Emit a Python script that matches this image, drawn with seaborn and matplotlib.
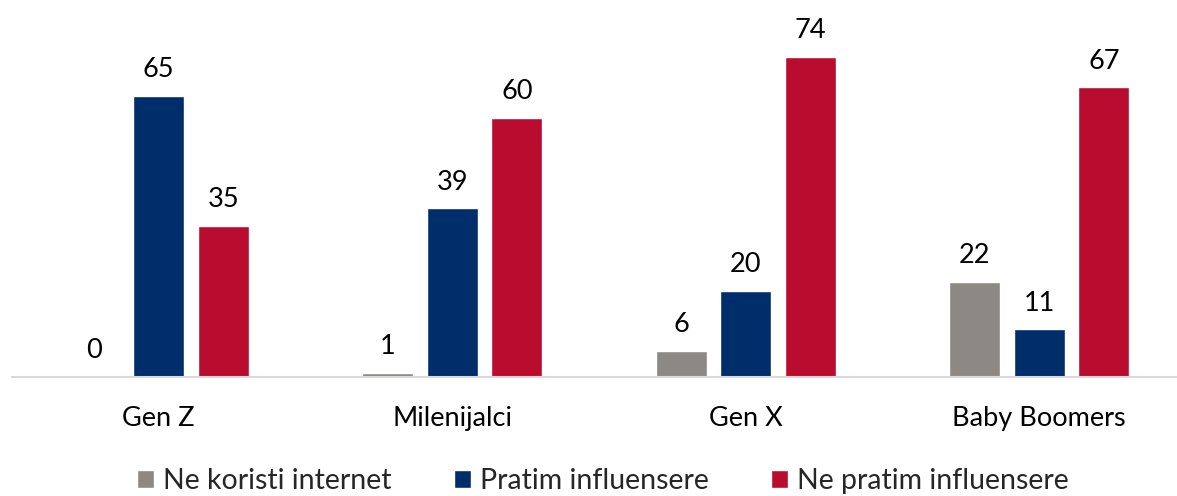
import matplotlib
matplotlib.use("Agg")
import matplotlib.pyplot as plt
import pandas as pd
import seaborn as sns

# data
generations = ["Gen Z", "Milenijalci", "Gen X", "Baby Boomers"]
series = ["Ne koristi internet", "Pratim influensere", "Ne pratim influensere"]
ne_koristi = [0, 1, 6, 22]
pratim = [65, 39, 20, 11]
ne_pratim = [35, 60, 74, 67]
colors = ["#8C8984", "#002E6B", "#BA0C2F"]

rows = []
for name, vals in zip(series, [ne_koristi, pratim, ne_pratim]):
    for gen, v in zip(generations, vals):
        rows.append({"gen": gen, "series": name, "value": v})
df = pd.DataFrame(rows)

sns.set_theme(style="white")
plt.rcParams["font.family"] = ["Lato", "DejaVu Sans"]

fig = plt.figure(figsize=(11.77, 4.96), dpi=100)
ax = fig.add_axes([12 / 1177, 119 / 496, 1174 / 1177, 357 / 496])

sns.barplot(data=df, x="gen", y="value", hue="series", hue_order=series,
            order=generations, palette=colors, width=0.66, gap=0.21,
            saturation=1, ax=ax, legend=True)

for cont in ax.containers:
    ax.bar_label(cont, fmt="%d", padding=10, fontsize=19.5, color="black")

ax.set_ylim(0, 82.6)
ax.set_xlim(-0.5, 3.5)
ax.set_xlabel("")
ax.set_ylabel("")
ax.set_yticks([])
ax.tick_params(axis="x", length=0, pad=21, labelsize=19.5, colors="black")
for side in ["top", "left", "right"]:
    ax.spines[side].set_visible(False)
ax.spines["bottom"].set_color("#D9D9D9")
ax.spines["bottom"].set_linewidth(1.5)

handles, labels = ax.get_legend_handles_labels()
ax.legend_.remove()
fig.legend(handles, labels, loc="center", bbox_to_anchor=(603 / 1177, 1 - 481 / 496),
           ncol=3, frameon=False, fontsize=20.5, handlelength=0.6, handleheight=0.6,
           handletextpad=0.3, columnspacing=2.2)

fig.savefig("out.png", dpi=100)
